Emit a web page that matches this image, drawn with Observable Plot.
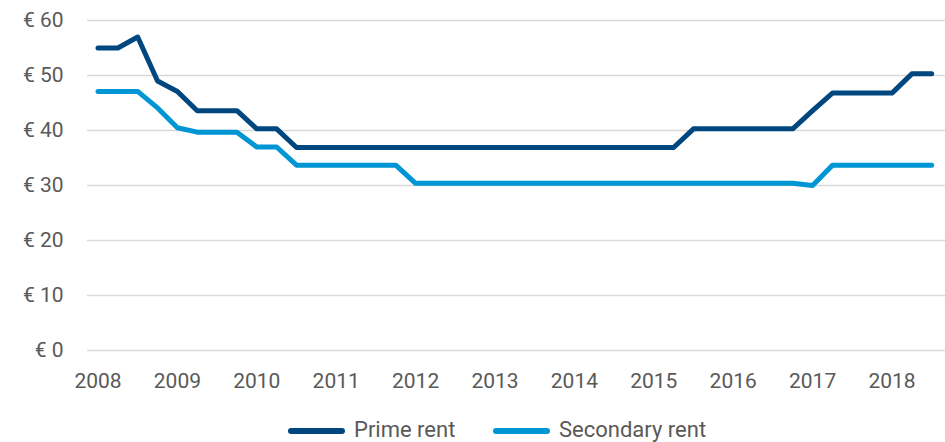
<!DOCTYPE html>
<html>
<head>
<meta charset="utf-8">
<script src="https://cdn.jsdelivr.net/npm/d3@7"></script>
<script src="https://cdn.jsdelivr.net/npm/@observablehq/plot@0.6"></script>
<style>
  html, body { margin: 0; padding: 0; background: #fff; overflow: hidden; }
  #chart { width: 945px; height: 442px; position: relative; }
  #chart svg { display: block; }
</style>
</head>
<body>
<div id="chart"></div>
<script>
const quarters = d3.range(43).map(i => 2008 + i / 4);
const seriesNames = ["Prime rent", "Secondary rent"];
const primeRent = [
  55, 55, 57, 49, 47.1, 43.6, 43.6, 43.6,
  40.3, 40.3, 36.9, 36.9, 36.9, 36.9, 36.9, 36.9,
  36.9, 36.9, 36.9, 36.9, 36.9, 36.9, 36.9, 36.9,
  36.9, 36.9, 36.9, 36.9, 36.9, 36.9, 40.3, 40.3,
  40.3, 40.3, 40.3, 40.3, 43.6, 46.8, 46.8, 46.8,
  46.8, 50.3, 50.3
];
const secondaryRent = [
  47.1, 47.1, 47.1, 44.1, 40.5, 39.7, 39.7, 39.7,
  37.0, 37.0, 33.7, 33.7, 33.7, 33.7, 33.7, 33.7,
  30.4, 30.4, 30.4, 30.4, 30.4, 30.4, 30.4, 30.4,
  30.4, 30.4, 30.4, 30.4, 30.4, 30.4, 30.4, 30.4,
  30.4, 30.4, 30.4, 30.4, 30.0, 33.7, 33.7, 33.7,
  33.7, 33.7, 33.7
];
const yearTicks = d3.range(2008, 2019);
const yTicks = [0, 10, 20, 30, 40, 50, 60];
const colors = ["#00477f", "#0096d3"];
const textColor = "#595959";
const fontFamily = "Roboto, sans-serif";

const data = [];
quarters.forEach((q, i) => {
  data.push({t: q, v: primeRent[i], s: seriesNames[0]});
  data.push({t: q, v: secondaryRent[i], s: seriesNames[1]});
});

const pxPerYear = 79.4;
const plot = Plot.plot({
  width: 945,
  height: 415,
  marginLeft: 87,
  marginRight: 0,
  marginTop: 20,
  marginBottom: 65,
  style: {fontFamily, fontSize: "21px", color: textColor, background: "#fff"},
  x: {domain: [2008 - 10.5 / pxPerYear, 2008 + (945 - 97.5) / pxPerYear], label: null},
  y: {domain: [0, 60], label: null},
  color: {domain: seriesNames, range: colors},
  marks: [
    Plot.ruleY(yTicks, {stroke: "#d9d9d9", strokeWidth: 1.6}),
    Plot.axisX({ticks: yearTicks, tickFormat: d => String(d), tickSize: 0, tickPadding: 23, fill: textColor, label: null}),
    Plot.axisY({ticks: yTicks, tickFormat: d => "€ " + d, tickSize: 0, tickPadding: 24, fill: textColor, label: null}),
    Plot.line(data, {x: "t", y: "v", z: "s", stroke: "s", strokeWidth: 5, strokeLinejoin: "round", strokeLinecap: "round"})
  ]
});
const chart = document.getElementById("chart");
chart.appendChild(plot);

// legend below the chart
const lsvg = d3.select(chart).append("svg")
  .attr("width", 945).attr("height", 27)
  .style("font-family", fontFamily);
const lefts = [288, 493];
seriesNames.forEach((n, i) => {
  const g = lsvg.append("g").attr("transform", `translate(${lefts[i]},0)`);
  g.append("line").attr("x1", 3).attr("x2", 54).attr("y1", 16).attr("y2", 16)
    .attr("stroke", colors[i]).attr("stroke-width", 6).attr("stroke-linecap", "round");
  g.append("text").attr("x", 66).attr("y", 21.5).attr("fill", textColor)
    .attr("font-size", "22px").text(n);
});
</script>
</body>
</html>
